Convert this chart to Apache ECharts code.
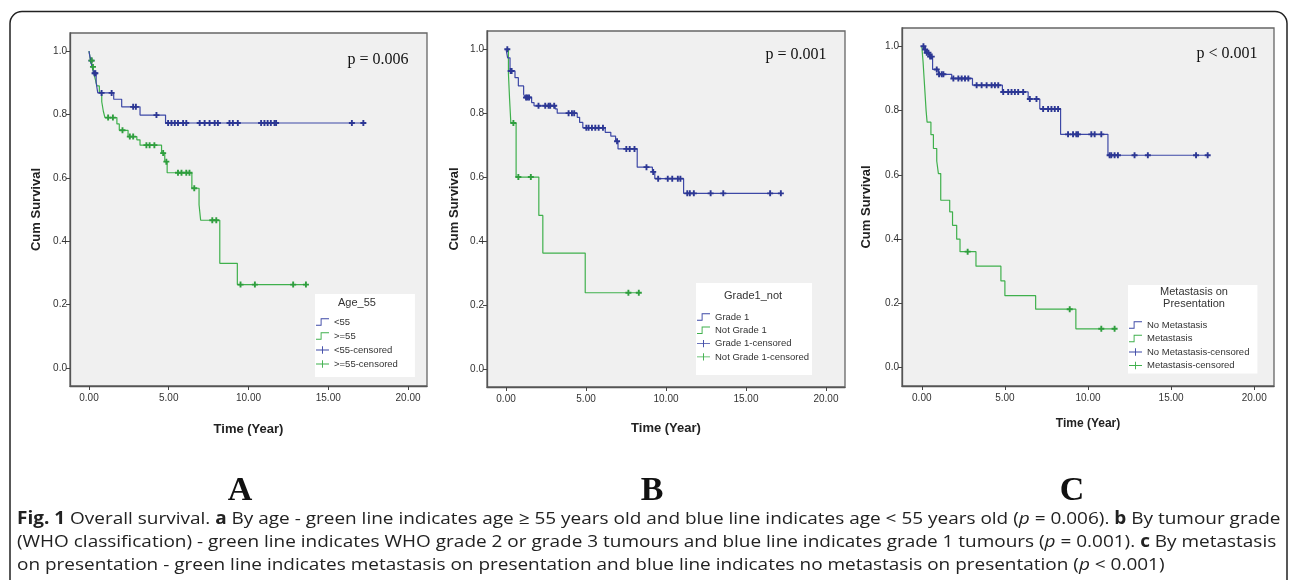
<!DOCTYPE html>
<html><head><meta charset="utf-8">
<script src="https://cdn.jsdelivr.net/npm/echarts@6/dist/echarts.min.js"></script>
<style>html,body{margin:0;padding:0;background:#fff}#c{width:1292px;height:580px}</style>
</head><body><div id="c"></div><script>
// ---------- tick labels ----------
const xTickValues = [0, 5, 10, 15, 20];
const yTickValues = [0, 0.2, 0.4, 0.6, 0.8, 1.0];

// ---------- Panel A : Age_55 ----------
const aBlueSteps = [[0,1],[0.1,0.97],[0.2,0.95],[0.3,0.93],[0.45,0.9],[0.55,0.868],[1.55,0.848],[2.05,0.824],[3.2,0.798],[4.8,0.773],[17.2,0.773]];
const aBlueCens = [0.15,0.35,0.4,0.79,1.42,2.77,2.94,4.23,4.96,5.17,5.38,5.58,5.9,6.1,6.94,7.25,7.56,7.88,8.08,8.81,9.02,9.33,10.79,11.0,11.2,11.4,11.63,11.73,16.48,17.2];
const aGreenSteps = [[0,1],[0.1,0.97],[0.2,0.95],[0.3,0.93],[0.4,0.91],[0.5,0.89],[0.65,0.87],[0.8,0.84],[0.9,0.81],[1.0,0.79],[1.75,0.77],[1.9,0.75],[2.45,0.73],[3.0,0.72],[3.2,0.703],[4.55,0.678],[4.75,0.651],[4.9,0.616],[6.45,0.567],[6.9,0.515],[7.0,0.466],[8.2,0.33],[9.3,0.263],[13.6,0.263]];
const aGreenCens = [0.17,0.25,1.2,1.5,2.1,2.56,2.77,3.6,3.8,4.1,4.65,4.85,5.58,5.8,6.1,6.3,6.6,7.73,7.98,9.5,10.4,12.8,13.6];

// ---------- Panel B : Grade1_not ----------
const bBlueSteps = [[0,1],[0.1,0.973],[0.25,0.932],[0.56,0.911],[0.77,0.885],[1.1,0.859],[1.2,0.849],[1.6,0.833],[1.75,0.823],[3.07,0.813],[3.2,0.8],[4.45,0.787],[4.6,0.771],[4.8,0.754],[6.2,0.74],[6.55,0.728],[6.85,0.712],[7.0,0.688],[8.2,0.631],[9.15,0.616],[9.3,0.595],[11.1,0.549],[17.2,0.549]];
const bBlueCens = [0.08,0.29,0.35,1.25,1.34,1.44,2.03,2.45,2.66,2.76,3.01,3.91,4.12,4.26,5.02,5.16,5.37,5.58,5.79,6.06,6.94,7.52,7.73,8.03,8.78,9.2,9.51,10.11,10.39,10.74,10.9,11.33,11.49,11.74,12.79,13.58,16.51,17.18];
const bGreenSteps = [[0,1],[0.15,0.923],[0.22,0.846],[0.3,0.769],[0.63,0.6],[2.05,0.48],[2.3,0.362],[4.95,0.238],[8.3,0.238]];
const bGreenCens = [0.46,0.77,1.55,7.65,8.3];

// ---------- Panel C : Metastasis on Presentation ----------
const cBlueSteps = [[0,1],[0.15,0.99],[0.3,0.98],[0.45,0.968],[0.65,0.928],[1.0,0.913],[1.8,0.9],[3.05,0.879],[4.85,0.858],[6.4,0.836],[7.1,0.805],[8.35,0.726],[11.2,0.661],[17.3,0.661]];
const cBlueCens = [0.1,0.2,0.3,0.4,0.5,0.6,0.9,1.04,1.2,1.3,1.9,2.2,2.4,2.6,2.8,3.3,3.6,3.9,4.2,4.4,4.6,4.9,5.2,5.4,5.6,5.8,6.1,6.5,6.9,7.3,7.6,7.8,8.0,8.2,8.8,9.1,9.3,9.4,10.2,10.4,10.8,11.3,11.4,11.6,11.8,12.8,13.6,16.5,17.2];
const cGreenSteps = [[0,1],[0.08,0.95],[0.14,0.9],[0.2,0.85],[0.26,0.8],[0.32,0.764],[0.55,0.725],[0.7,0.682],[0.9,0.643],[1.0,0.604],[1.14,0.521],[1.68,0.485],[1.85,0.443],[2.1,0.40],[2.3,0.361],[3.26,0.316],[4.76,0.27],[5.0,0.224],[6.85,0.182],[9.27,0.121],[11.6,0.121]];
const cGreenCens = [2.76,8.9,10.8,11.6];

// ---------- names ----------
const seriesNamesA = ['<55', '>=55', '<55-censored', '>=55-censored'];
const seriesNamesB = ['Grade 1', 'Not Grade 1', 'Grade 1-censored', 'Not Grade 1-censored'];
const seriesNamesC = ['No Metastasis', 'Metastasis', 'No Metastasis-censored', 'Metastasis-censored'];
const legendTitles = ['Age_55', 'Grade1_not', 'Metastasis on\nPresentation'];
const pValues = ['p = 0.006', 'p = 0.001', 'p < 0.001'];
const panelLetters = ['A', 'B', 'C'];
const captionLines = [
  '{b|Fig. 1} Overall survival. {b|a} By age - green line indicates age \u2265 55 years old and blue line indicates age < 55 years old ({i|p} = 0.006). {b|b} By tumour grade',
  '(WHO classification) - green line indicates WHO grade 2 or grade 3 tumours and blue line indicates grade 1 tumours ({i|p} = 0.001). {b|c} By metastasis',
  'on presentation - green line indicates metastasis on presentation and blue line indicates no metastasis on presentation ({i|p} < 0.001)'
];

// ---------- styling ----------
const BLUE = '#3d48a6', GREEN = '#3fb04c', BLUE_M = '#2c3794', GREEN_M = '#2f9e3e';
const PLUS = 'path://M2.4,0H4.6V2.4H7V4.6H4.6V7H2.4V4.6H0V2.4H2.4Z';
const STEP_ICON = 'path://M0,8.5H5V1.5H14V2.5H6V9.5H0Z';
const PLUS_ICON = 'path://M0,4.5H6.5V1H7.5V4.5H14V5.5H7.5V9H6.5V5.5H0Z';
const SANS = 'Liberation Sans, Arial, sans-serif';
const SERIF = 'Liberation Serif, Times New Roman, serif';

function survAt(steps, t) {
  let s = steps[0][1];
  for (const p of steps) { if (p[0] <= t + 1e-9) s = p[1]; else break; }
  return s;
}

const grids = [
  {left: 70, top: 33, width: 357, height: 353},
  {left: 487, top: 31, width: 358, height: 356},
  {left: 902, top: 28, width: 372, height: 358}
];
const xNameGaps = [37, 35, 32];
const yNameGaps = [27, 26, 29];
const xNameSizes = [13, 13, 12];

const panels = [
  {names: seriesNamesA, bs: aBlueSteps, bc: aBlueCens, gs: aGreenSteps, gc: aGreenCens},
  {names: seriesNamesB, bs: bBlueSteps, bc: bBlueCens, gs: bGreenSteps, gc: bGreenCens},
  {names: seriesNamesC, bs: cBlueSteps, bc: cBlueCens, gs: cGreenSteps, gc: cGreenCens}
];

const xAxes = [], yAxes = [], series = [], legends = [];
grids.forEach((g, i) => {
  Object.assign(g, {show: true, backgroundColor: '#f0f0f0', borderColor: '#666', borderWidth: 1.3, containLabel: false});
  xAxes.push({
    gridIndex: i, type: 'value', min: -1.19, max: 21.19,
    axisLine: {show: true, onZero: false, lineStyle: {color: '#555', width: 1.3}},
    axisTick: {show: true, length: 4, customValues: xTickValues, lineStyle: {color: '#444'}},
    axisLabel: {customValues: xTickValues, formatter: v => v.toFixed(2), fontSize: 10, color: '#333', margin: 7, fontFamily: SANS},
    splitLine: {show: false},
    name: 'Time (Year)', nameLocation: 'middle', nameGap: xNameGaps[i],
    nameTextStyle: {fontWeight: 'bold', fontSize: xNameSizes[i], color: '#222', fontFamily: SANS}
  });
  yAxes.push({
    gridIndex: i, type: 'value', min: -0.057, max: 1.057,
    axisLine: {show: true, onZero: false, lineStyle: {color: '#555', width: 1.3}},
    axisTick: {show: true, length: 4, customValues: yTickValues, lineStyle: {color: '#444'}},
    axisLabel: {customValues: yTickValues, formatter: v => v.toFixed(1), fontSize: 10, color: '#333', margin: 3, fontFamily: SANS},
    splitLine: {show: false},
    name: 'Cum Survival', nameLocation: 'middle', nameGap: yNameGaps[i],
    nameTextStyle: {fontWeight: 'bold', fontSize: 13, color: '#222', fontFamily: SANS}
  });
  const p = panels[i];
  series.push(
    {name: p.names[0], type: 'line', xAxisIndex: i, yAxisIndex: i, step: 'end', showSymbol: false, data: p.bs,
     lineStyle: {color: BLUE, width: 1.2}, itemStyle: {color: BLUE}, z: 3, animation: false},
    {name: p.names[1], type: 'line', xAxisIndex: i, yAxisIndex: i, step: 'end', showSymbol: false, data: p.gs,
     lineStyle: {color: GREEN, width: 1.2}, itemStyle: {color: GREEN}, z: 2, animation: false},
    {name: p.names[2], type: 'scatter', xAxisIndex: i, yAxisIndex: i, symbol: PLUS, symbolSize: 6,
     data: p.bc.map(t => [t, survAt(p.bs, t)]), itemStyle: {color: BLUE_M, opacity: 1}, z: 4, animation: false},
    {name: p.names[3], type: 'scatter', xAxisIndex: i, yAxisIndex: i, symbol: PLUS, symbolSize: 6,
     data: p.gc.map(t => [t, survAt(p.gs, t)]), itemStyle: {color: GREEN_M, opacity: 1}, z: 4, animation: false}
  );
});

const legendBoxes = [
  {left: 315, top: 294, padding: [23, 17, 8, 1], itemGap: 4},
  {left: 696, top: 283, padding: [29, 3, 13, 1], itemGap: 3.3},
  {left: 1128, top: 285, padding: [35, 8, 3, 1], itemGap: 3.5}
];
legendBoxes.forEach((lb, i) => {
  const n = panels[i].names;
  legends.push(Object.assign({
    orient: 'vertical', backgroundColor: '#fff', borderWidth: 0, selectedMode: false,
    itemWidth: 13, itemHeight: 10, z: 5,
    textStyle: {fontSize: 9.5, color: '#333', fontFamily: SANS},
    data: [
      {name: n[0], icon: STEP_ICON, itemStyle: {color: BLUE, borderWidth: 0}},
      {name: n[1], icon: STEP_ICON, itemStyle: {color: GREEN, borderWidth: 0}},
      {name: n[2], icon: PLUS_ICON, itemStyle: {color: BLUE, borderWidth: 0}},
      {name: n[3], icon: PLUS_ICON, itemStyle: {color: GREEN, borderWidth: 0}}
    ]
  }, lb));
});

const graphics = [
  {type: 'rect', silent: true, z: 0, shape: {x: 10, y: 11.5, width: 1277, height: 640, r: 12},
   style: {fill: 'none', stroke: '#222', lineWidth: 1.5}}
];
const legendTitlePos = [[357, 303], [753, 296], [1194, 297.5]];
const pPos = [[378, 60], [796, 55], [1227, 54]];
const letterPos = [[240, 491], [652, 491], [1072, 491]];
for (let i = 0; i < 3; i++) {
  graphics.push({type: 'text', z: 20, x: legendTitlePos[i][0], y: legendTitlePos[i][1],
    style: {text: legendTitles[i], fontSize: 11, fill: '#333', fontFamily: SANS, align: 'center', verticalAlign: 'middle', lineHeight: 12}});
  graphics.push({type: 'text', z: 20, x: pPos[i][0], y: pPos[i][1],
    style: {text: pValues[i], fontSize: 16, fill: '#111', fontFamily: SERIF, align: 'center', verticalAlign: 'middle'}});
  graphics.push({type: 'text', z: 20, x: letterPos[i][0], y: letterPos[i][1],
    style: {text: panelLetters[i], fontSize: 34, fontWeight: 'bold', fill: '#111', fontFamily: SERIF, align: 'center', verticalAlign: 'middle'}});
}
const capY = [519, 542, 565];
const CAP_FONT = 'Open Sans, sans-serif';
const CAP_SIZE = 17;
captionLines.forEach((t, i) => {
  graphics.push({type: 'text', z: 20, x: 17, y: capY[i], scaleX: 1.116, scaleY: 1,
    style: {text: t, fontSize: CAP_SIZE, fill: '#222', fontFamily: CAP_FONT, align: 'left', verticalAlign: 'middle',
      rich: {b: {fontWeight: 'bold', fontSize: CAP_SIZE, fontFamily: CAP_FONT, fill: '#222'},
             i: {fontStyle: 'italic', fontSize: CAP_SIZE, fontFamily: CAP_FONT, fill: '#222'}}}});
});

const chart = echarts.init(document.getElementById('c'), null, {renderer: 'canvas'});
chart.setOption({
  backgroundColor: '#fff',
  animation: false,
  grid: grids, xAxis: xAxes, yAxis: yAxes, series: series, legend: legends,
  graphic: graphics
});
</script></body></html>
